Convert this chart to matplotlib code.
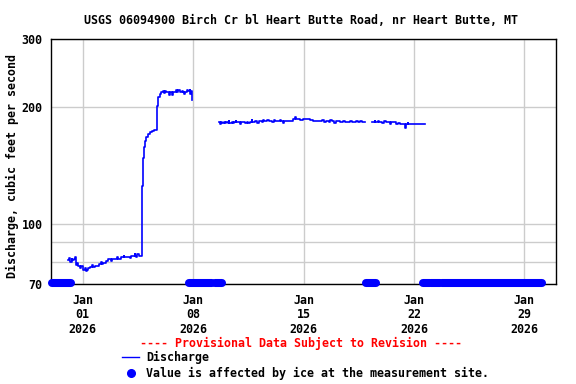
import numpy as np
import pandas as pd
import matplotlib
matplotlib.use('Agg')
import matplotlib.pyplot as plt
from matplotlib.lines import Line2D
from matplotlib.ticker import FixedLocator, NullFormatter

plt.rcParams['font.family'] = 'DejaVu Sans Mono'
plt.rcParams['font.weight'] = 'bold'
plt.rcParams['font.size'] = 8.4

start = pd.Timestamp('2026-01-01')

# discharge record in three unbroken pieces: days after 2026-01-01, cfs
seg1_days = [-0.95, -0.85, -0.78, -0.70, -0.65, -0.55, -0.49, -0.44, -0.40, -0.33,
             -0.27, -0.15, -0.08, 0.04, 0.15, 0.20, 0.30, 0.36, 0.49, 0.60,
             0.65, 0.81, 1.06, 1.15, 1.20, 1.31, 1.50, 1.63, 1.80, 1.85,
             2.07, 2.20, 2.25, 2.45, 2.60, 2.65, 2.77, 3.02, 3.10, 3.22,
             3.30, 3.35, 3.41, 3.48, 3.54, 3.60, 3.67, 3.74, 3.80, 3.89,
             3.98, 4.04, 4.17, 4.30, 4.42, 4.55, 4.69, 4.78, 4.93, 4.99,
             5.10, 5.15, 5.24, 5.30, 5.43, 5.50, 5.55, 5.69, 5.75, 5.90,
             6.00, 6.07, 6.20, 6.30, 6.35, 6.45, 6.51, 6.60, 6.70, 6.78,
             6.83, 6.87, 6.91, 6.94]
seg1_cfs = [80.5, 81.5, 80.0, 81.2, 80.6, 81.0, 82.0, 80.5, 78.5, 79.2,
            77.8, 77.0, 77.8, 76.2, 76.8, 75.8, 76.0, 77.0, 77.6, 78.3,
            77.6, 78.0, 79.0, 80.0, 79.0, 79.4, 80.4, 81.2, 80.4, 81.2,
            81.0, 82.0, 81.0, 82.0, 82.8, 82.0, 82.4, 81.6, 82.8, 82.8,
            83.8, 82.5, 82.2, 83.8, 83.5, 82.5, 82.5, 125.5, 148.5, 158.0,
            164.0, 167.4, 170.8, 172.5, 173.5, 175.0, 202.0, 212.8, 216.8, 219.0,
            221.0, 218.0, 221.0, 219.0, 219.0, 216.0, 219.0, 216.0, 219.0, 221.5,
            219.0, 221.5, 219.0, 221.0, 219.0, 216.5, 219.5, 221.5, 220.5, 222.0,
            217.0, 221.0, 209.0, 209.0]

seg2_days = [8.62, 8.70, 8.80, 8.86, 8.95, 9.02, 9.11, 9.20, 9.26, 9.30,
             9.45, 9.52, 9.62, 9.70, 9.74, 9.87, 9.95, 10.05, 10.32, 10.40,
             10.50, 10.63, 10.72, 10.76, 10.95, 11.05, 11.15, 11.27, 11.35, 11.45,
             11.50, 11.59, 11.70, 11.80, 11.90, 12.00, 12.10, 12.20, 12.41, 12.50,
             12.60, 12.70, 12.75, 12.85, 13.00, 13.10, 13.36, 13.45, 13.50, 13.80,
             13.95, 14.18, 14.40, 14.63, 14.80, 15.07, 15.20, 15.30, 15.45, 15.60,
             15.70, 15.83, 15.95, 16.05, 16.34, 16.50, 16.60, 16.97, 17.10, 17.30,
             17.48, 17.60, 17.70, 17.92]
seg2_cfs = [183.2, 181.8, 183.2, 182.0, 183.5, 182.0, 183.5, 182.3, 184.5, 182.0,
            183.5, 182.2, 183.5, 185.0, 183.0, 183.0, 181.8, 183.2, 182.0, 183.5,
            182.2, 183.5, 185.2, 183.8, 184.0, 182.8, 184.5, 185.0, 183.8, 185.6,
            184.0, 184.0, 185.5, 184.2, 185.0, 183.8, 185.5, 184.0, 184.0, 185.5,
            184.0, 182.5, 184.2, 185.0, 184.0, 185.0, 186.8, 188.5, 186.5, 186.0,
            187.2, 186.8, 186.0, 185.0, 184.0, 184.0, 185.5, 183.8, 185.0, 183.8,
            185.2, 184.3, 182.8, 184.3, 183.8, 185.0, 183.6, 184.3, 183.2, 184.5,
            183.5, 184.6, 183.2, 183.2]

seg3_days = [18.37, 18.50, 18.56, 18.70, 18.78, 18.87, 19.00, 19.10, 19.20, 19.38,
             19.50, 19.55, 19.83, 20.00, 20.10, 20.46, 20.50, 20.60, 20.65, 20.91,
             21.73]
seg3_cfs = [183.2, 184.8, 183.2, 184.5, 183.0, 183.5, 182.5, 184.2, 183.0, 183.0,
            181.8, 183.2, 181.5, 182.5, 181.2, 176.8, 181.5, 182.2, 181.0, 181.0,
            181.0]

# periods with ice-affected values (days after 2026-01-01)
ice_start = [-1.92, 6.77, 8.40, 17.97, 21.55, 22.10, 22.80]
ice_end = [-0.72, 8.19, 8.84, 18.62, 21.99, 22.64, 29.10]
ice_q = 70.5

tick_dates = ['2026-01-01', '2026-01-08', '2026-01-15', '2026-01-22', '2026-01-29']
tick_labels = ['Jan\n01\n2026', 'Jan\n08\n2026', 'Jan\n15\n2026', 'Jan\n22\n2026', 'Jan\n29\n2026']

blue = '#0000ff'

fig = plt.figure(figsize=(5.76, 3.84), dpi=100)
ax = fig.add_axes([51 / 576, 100 / 384, 505 / 576, 244.7 / 384])

for d, q in [(seg1_days, seg1_cfs), (seg2_days, seg2_cfs), (seg3_days, seg3_cfs)]:
    qx = start + pd.to_timedelta(np.array(d), unit='D')
    ax.plot(qx, q, drawstyle='steps-post', color=blue, lw=1.2, zorder=3)

for s, e in zip(ice_start, ice_end):
    xs = start + pd.to_timedelta([s, e], unit='D')
    ax.plot(xs, [ice_q, ice_q], color=blue, lw=5.8, solid_capstyle='round',
            clip_on=False, zorder=4)

ax.set_yscale('log')
ax.set_ylim(70, 300)
ax.yaxis.set_major_locator(FixedLocator([70, 100, 200, 300]))
ax.set_yticklabels(['70', '100', '200', '300'])
ax.yaxis.set_minor_locator(FixedLocator([80, 90]))
ax.yaxis.set_minor_formatter(NullFormatter())

ax.set_xlim(pd.Timestamp('2025-12-30'), pd.Timestamp('2026-01-31'))
ax.set_xticks(pd.to_datetime(tick_dates))
ax.set_xticklabels(tick_labels, linespacing=1.15)

ax.grid(which='both', color='#cccccc', lw=1.0)
ax.set_axisbelow(True)
ax.tick_params(which='both', length=0)
ax.tick_params(axis='y', pad=6)
ax.tick_params(axis='x', pad=7)
for sp in ax.spines.values():
    sp.set_color('black')
    sp.set_linewidth(1.0)

fig.text(301.5 / 576, 1 - 20 / 384, 'USGS 06094900 Birch Cr bl Heart Butte Road, nr Heart Butte, MT',
         ha='center', va='center')
fig.text(12 / 576, 1 - 166.5 / 384, 'Discharge, cubic feet per second',
         rotation=90, ha='center', va='center')

# legend
fig.text(301 / 576, 1 - 343 / 384, '---- Provisional Data Subject to Revision ----',
         color='#ff0000', ha='center', va='center')
fig.add_artist(Line2D([122 / 576, 139 / 576], [1 - 357 / 384, 1 - 357 / 384],
                      color=blue, lw=1.0, transform=fig.transFigure))
fig.text(146 / 576, 1 - 357 / 384, 'Discharge', ha='left', va='center')
fig.add_artist(Line2D([131 / 576], [1 - 373 / 384], marker='o', markersize=5.5,
                      color=blue, transform=fig.transFigure))
fig.text(146 / 576, 1 - 373 / 384, 'Value is affected by ice at the measurement site.',
         ha='left', va='center')

fig.savefig('out.png', dpi=100)
